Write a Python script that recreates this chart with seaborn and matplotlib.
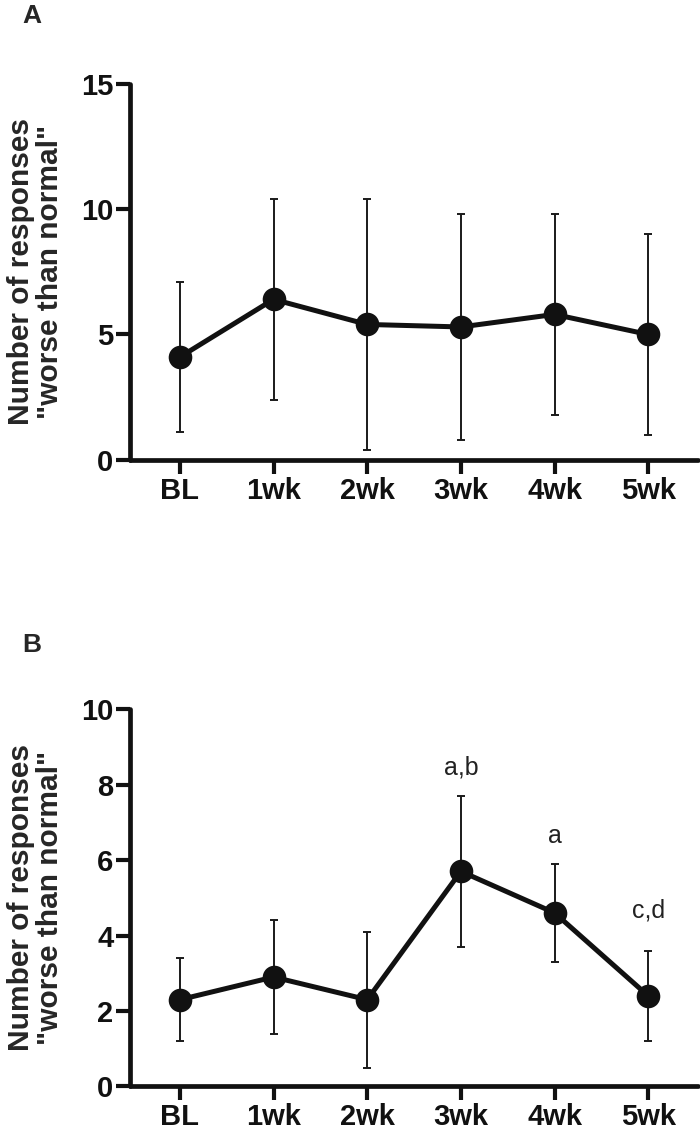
import numpy as np
import matplotlib
matplotlib.use("Agg")
import matplotlib.pyplot as plt
import seaborn as sns

# -------------------------------------
# DATA
# -------------------------------------
timepoints = ["BL", "1wk", "2wk", "3wk", "4wk", "5wk"]

# panel A
mean_a = [4.1, 6.4, 5.4, 5.3, 5.8, 5.0]
err_a = [3.0, 4.0, 5.0, 4.5, 4.0, 4.0]

# panel B
mean_b = [2.3, 2.9, 2.3, 5.7, 4.6, 2.4]
err_b = [1.1, 1.5, 1.8, 2.0, 1.3, 1.2]
labels_b = ["", "", "", "a,b", "a", "c,d"]
label_y_b = [0, 0, 0, 8.45, 6.65, 4.65]

ylabel = 'Number of responses\n"worse than normal"'

# -------------------------------------
# STYLE
# -------------------------------------
sns.set_style("ticks")
plt.rcParams["font.family"] = ["Liberation Sans", "DejaVu Sans"]

fig = plt.figure(figsize=(7, 11.3), dpi=100)
ax_a = fig.add_axes([0.186, 0.593, 0.811, 0.333])
ax_b = fig.add_axes([0.186, 0.0385, 0.811, 0.334])


def draw_panel(ax, means, errs, ymax, yticks):
    x = np.arange(len(timepoints))
    ax.errorbar(x, means, yerr=errs, fmt="none", ecolor="#1a1a1a",
                elinewidth=1.4, capsize=3.2, capthick=1.4, zorder=2)
    sns.lineplot(x=x, y=means, ax=ax, color="#111111", linewidth=3.6,
                 marker="o", markersize=17, markeredgewidth=0, zorder=3)
    ax.set_xlim(-0.53, 5.53)
    ax.set_ylim(0, ymax)
    ax.set_xticks(x)
    ax.set_xticklabels(timepoints, fontsize=21, fontweight="bold")
    ax.set_yticks(yticks)
    ax.set_yticklabels([str(t) for t in yticks], fontsize=21, fontweight="bold")
    ax.set_ylabel(ylabel, fontsize=21.5, fontweight="bold", labelpad=12,
                  linespacing=1.05)
    for side in ["top", "right"]:
        ax.spines[side].set_visible(False)
    for side in ["left", "bottom"]:
        ax.spines[side].set_linewidth(3.4)
        ax.spines[side].set_color("#111111")
        ax.spines[side].set_capstyle("round")
    ax.tick_params(axis="both", width=3.0, length=10, color="#111111",
                   labelcolor="#111111")
    ax.tick_params(axis="x", pad=2)
    ax.tick_params(axis="y", pad=2)
    ax.set_facecolor("white")


draw_panel(ax_a, mean_a, err_a, 15, [0, 5, 10, 15])
draw_panel(ax_b, mean_b, err_b, 10, [0, 2, 4, 6, 8, 10])

for i, lab in enumerate(labels_b):
    if lab:
        ax_b.text(i, label_y_b[i], lab, ha="center", va="center",
                  fontsize=18, color="#222222")

fig.text(0.045, 0.986, "A", fontsize=19, fontweight="bold",
         ha="center", va="center")
fig.text(0.046, 0.429, "B", fontsize=19, fontweight="bold",
         ha="center", va="center")

fig.savefig("out.png", dpi=100, facecolor="white")
